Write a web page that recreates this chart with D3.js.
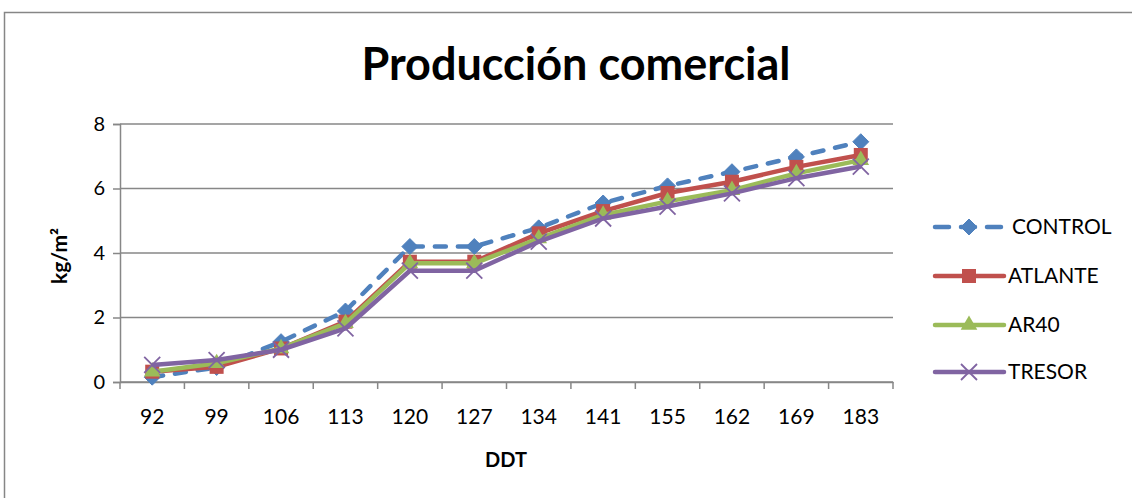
<!DOCTYPE html>
<html><head><meta charset="utf-8">
<script src="https://cdn.jsdelivr.net/npm/d3@7"></script>
<style>body{margin:0;background:#fff;}svg{display:block;font-family:Lato,"Open Sans",sans-serif;}</style>
</head><body><svg id="c" width="1132" height="498"></svg>
<script>
const categories = ["92","99","106","113","120","127","134","141","155","162","169","183"];
const control = [0.15,0.45,1.25,2.2,4.2,4.2,4.78,5.55,6.08,6.52,6.98,7.45];
const atlante = [0.32,0.47,1.04,1.87,3.73,3.73,4.61,5.3,5.86,6.21,6.67,7.04];
const ar40 =    [0.32,0.58,1.04,1.82,3.68,3.68,4.45,5.18,5.6,5.95,6.47,6.88];
const tresor =  [0.53,0.68,1.0,1.66,3.45,3.45,4.35,5.07,5.44,5.85,6.32,6.68];
const yTicks = [0,2,4,6,8];
const seriesNames = ["CONTROL","ATLANTE","AR40","TRESOR"];
const seriesColors = ["#4F81BD","#C0504D","#9BBB59","#8064A2"];
const seriesData = [control, atlante, ar40, tresor];

const svg = d3.select("#c");
svg.append("rect").attr("x",4.5).attr("y",12.5).attr("width",1140).attr("height",500)
  .attr("fill","#fff").attr("stroke","#868686").attr("stroke-width",1.5);

const L=120, R=893, T=124, B=382;
const x = d3.scaleBand().domain(categories).range([L,R]);
const y = d3.scaleLinear().domain([0,8]).range([B,T]);

svg.append("g").selectAll("line").data(yTicks).join("line")
  .attr("x1",L).attr("x2",R).attr("y1",d=>y(d)).attr("y2",d=>y(d))
  .attr("stroke","#878787").attr("stroke-width",1.5);

const ya = svg.append("g").attr("transform",`translate(${L},0)`)
  .call(d3.axisLeft(y).tickValues(yTicks).tickSize(7).tickPadding(8).tickFormat(d3.format("d")));
ya.select(".domain").attr("stroke","#878787").attr("stroke-width",1.5);
ya.selectAll(".tick line").attr("stroke","#878787").attr("stroke-width",1.5);
ya.selectAll("text").attr("font-size",20).attr("fill","#000").attr("font-family","Lato");

const xa = svg.append("g").attr("transform",`translate(0,${B})`)
  .call(d3.axisBottom(x).tickSize(0).tickPadding(27));
xa.select(".domain").attr("stroke","#878787").attr("stroke-width",1.5);
xa.selectAll(".tick text").attr("font-size",21).attr("fill","#000").attr("font-family","Lato");
const bounds = categories.map(c=>x(c)).concat([R]);
svg.append("g").selectAll("line").data(bounds).join("line")
  .attr("x1",d=>d).attr("x2",d=>d).attr("y1",B).attr("y2",B+7)
  .attr("stroke","#878787").attr("stroke-width",1.5);

svg.append("text").attr("x",576).attr("y",80).attr("text-anchor","middle")
  .attr("font-size",45).attr("font-weight","bold").attr("fill","#000").text("Producción comercial");
svg.append("text").attr("x",506).attr("y",467).attr("text-anchor","middle")
  .attr("font-size",20).attr("font-weight","bold").text("DDT");
svg.append("text").attr("transform","translate(67,256) rotate(-90)").attr("text-anchor","middle")
  .attr("font-size",21).attr("font-weight","bold").text("kg/m²");

const cx = c => x(c) + x.bandwidth()/2;
const line = d3.line().x((d,i)=>cx(categories[i])).y(d=>y(d));

function marker(g, type, color, px, py){
  if(type===0){
    g.append("path").attr("d",`M${px},${py-8}L${px+8},${py}L${px},${py+8}L${px-8},${py}Z`).attr("fill",color)
      .attr("stroke",color).attr("stroke-width",1).attr("stroke-linejoin","round");
  } else if(type===1){
    g.append("rect").attr("x",px-7).attr("y",py-7).attr("width",14).attr("height",14).attr("fill",color);
  } else if(type===2){
    g.append("path").attr("d",d3.symbol(d3.symbolTriangle,120)()).attr("transform",`translate(${px},${py})`).attr("fill",color);
  } else {
    g.append("path").attr("d",`M${px-8},${py-8}L${px+8},${py+8}M${px-8},${py+8}L${px+8},${py-8}`)
      .attr("stroke",color).attr("stroke-width",1.8).attr("fill","none");
  }
}

seriesData.forEach((data,si)=>{
  const g = svg.append("g");
  g.append("path").datum(data).attr("d",line).attr("fill","none")
    .attr("stroke",seriesColors[si]).attr("stroke-width",4.5)
    .attr("stroke-linejoin","round").attr("stroke-linecap", si===0?"round":"butt")
    .attr("stroke-dasharray", si===0 ? "11,12" : null);
  data.forEach((v,i)=>marker(g, si, seriesColors[si], cx(categories[i]), y(v)));
});

const legY = [227,276,325,372];
seriesNames.forEach((n,si)=>{
  const g = svg.append("g");
  g.append("line").attr("x1",935).attr("x2",1004).attr("y1",legY[si]).attr("y2",legY[si])
    .attr("stroke",seriesColors[si]).attr("stroke-width",4.5).attr("stroke-linecap","round")
    .attr("stroke-dasharray", si===0 ? "14,12" : null);
  marker(g, si, seriesColors[si], 969, legY[si]);
  g.append("text").attr("x",si===0?1012:1008).attr("y",legY[si]+7).attr("font-size",21).attr("fill","#000").text(n);
});
</script></body></html>
